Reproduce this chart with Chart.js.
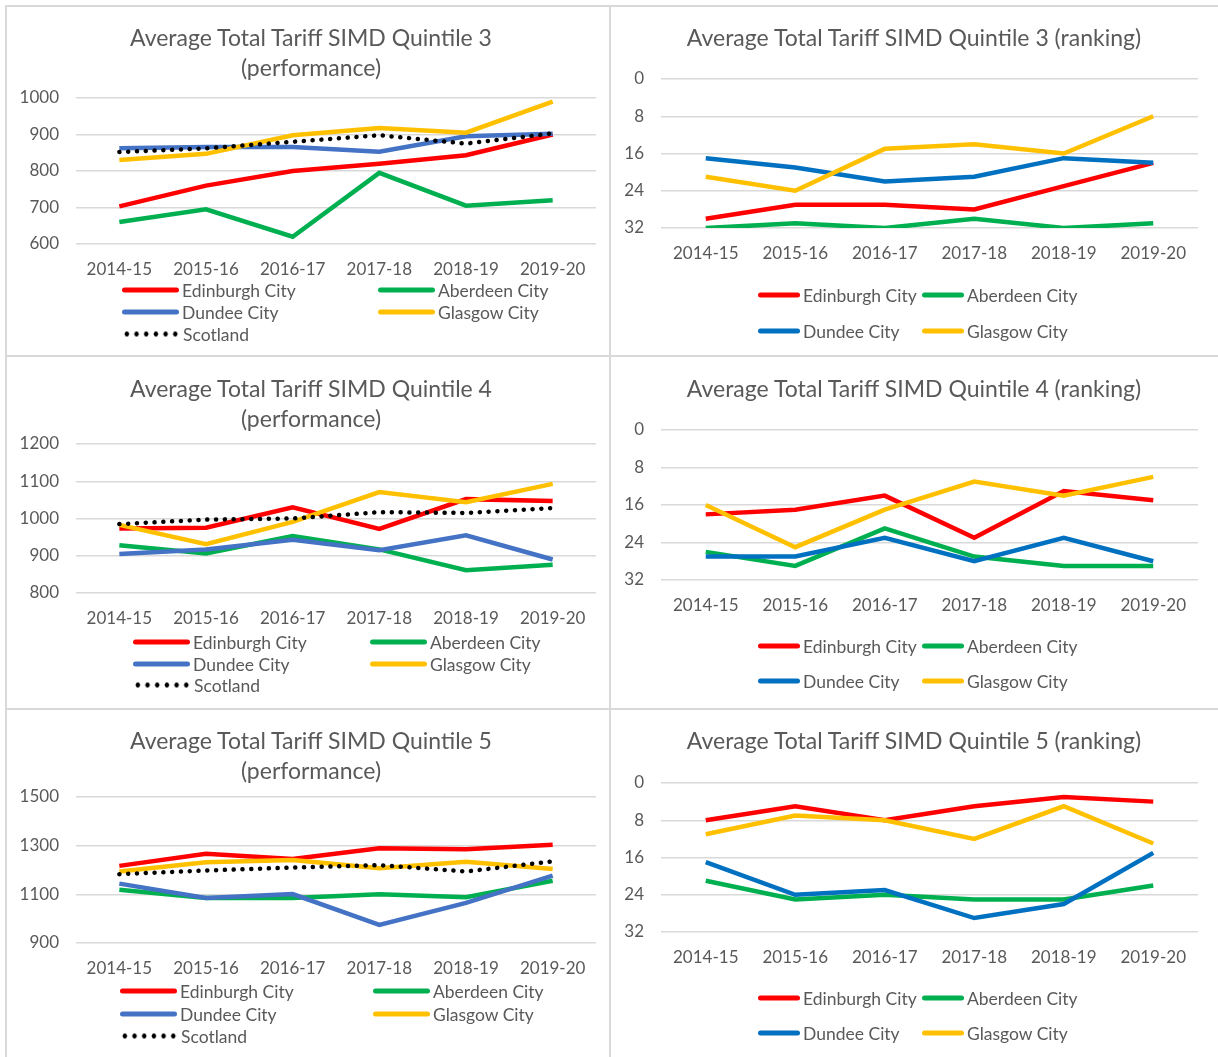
<!DOCTYPE html>
<html>
<head>
<meta charset="utf-8">
<script src="https://cdn.jsdelivr.net/npm/chart.js@4.4.1/dist/chart.umd.min.js"></script>
<style>
    body {
        margin: 0;
        background: #fff;
        width: 1218px;
        height: 1057px;
        position: relative;
        overflow: hidden;
        font-family: Lato, "Open Sans", sans-serif;
    }
    .rule {
        position: absolute;
        background: #d9d9d9;
    }
    .cell {
        position: absolute;
        width: 604px;
        height: 351px;
    }
    .chart-title {
        position: absolute;
        width: 600px;
        margin-left: -300px;
        text-align: center;
        color: #595959;
        font-size: 23px;
        line-height: 30px;
    }
    .legend-item {
        position: absolute;
        display: flex;
        align-items: center;
        color: #595959;
        font-size: 17.5px;
        white-space: nowrap;
        transform: translateY(-50%);
    }
    .legend-item .swatch {
        display: inline-block;
        height: 5px;
        border-radius: 3px;
        margin-right: 3px;
    }
    .legend-item .dots {
        display: inline-block;
        height: 5px;
        margin-right: 3px;
        background-image: radial-gradient(circle, #000 2.2px, transparent 2.6px);
        background-size: 9.7px 5px;
        background-repeat: repeat-x;
    }
</style>
</head>
<body>

<div class="rule" style="left:5px;top:5px;width:1213px;height:2px"></div>
<div class="rule" style="left:5px;top:5px;width:2px;height:1052px"></div>
<div class="rule" style="left:609px;top:5px;width:2px;height:1052px"></div>
<div class="rule" style="left:5px;top:355px;width:1213px;height:2px"></div>
<div class="rule" style="left:5px;top:708px;width:1213px;height:2px"></div>

<div class="cell" style="left:6px;top:5px"><canvas id="q3-perf" width="604" height="351"></canvas></div>
<div class="cell" style="left:610px;top:5px"><canvas id="q3-rank" width="606" height="351"></canvas></div>
<div class="cell" style="left:6px;top:356px"><canvas id="q4-perf" width="604" height="351"></canvas></div>
<div class="cell" style="left:610px;top:356px"><canvas id="q4-rank" width="606" height="351"></canvas></div>
<div class="cell" style="left:6px;top:708px"><canvas id="q5-perf" width="604" height="349"></canvas></div>
<div class="cell" style="left:610px;top:708px"><canvas id="q5-rank" width="606" height="349"></canvas></div>

<div id="overlay"></div>

<script>
    const years = ['2014-15', '2015-16', '2016-17', '2017-18', '2018-19', '2019-20'];
    const cities = ['Edinburgh City', 'Aberdeen City', 'Dundee City', 'Glasgow City'];

    // quintile 3
    const q3PerfEdinburgh = [703, 760, 800, 820, 843, 900];
    const q3PerfAberdeen  = [660, 695, 620, 795, 705, 720];
    const q3PerfDundee    = [862, 866, 866, 853, 895, 902];
    const q3PerfGlasgow   = [830, 847, 898, 918, 905, 990];
    const q3PerfScotland  = [852, 862, 880, 898, 875, 903];

    const q3RankEdinburgh = [30, 27, 27, 28, 23, 18];
    const q3RankAberdeen  = [32, 31, 32, 30, 32, 31];
    const q3RankDundee    = [17, 19, 22, 21, 17, 18];
    const q3RankGlasgow   = [21, 24, 15, 14, 16, 8];

    // quintile 4
    const q4PerfEdinburgh = [973, 975, 1030, 972, 1052, 1047];
    const q4PerfAberdeen  = [928, 906, 953, 917, 861, 876];
    const q4PerfDundee    = [905, 917, 943, 915, 955, 890];
    const q4PerfGlasgow   = [983, 931, 991, 1071, 1044, 1093];
    const q4PerfScotland  = [985, 997, 1000, 1017, 1015, 1028];

    const q4RankEdinburgh = [18, 17, 14, 23, 13, 15];
    const q4RankAberdeen  = [26, 29, 21, 27, 29, 29];
    const q4RankDundee    = [27, 27, 23, 28, 23, 28];
    const q4RankGlasgow   = [16, 25, 17, 11, 14, 10];

    // quintile 5
    const q5PerfEdinburgh = [1217, 1267, 1245, 1289, 1285, 1304];
    const q5PerfAberdeen  = [1119, 1085, 1085, 1100, 1088, 1156];
    const q5PerfDundee    = [1144, 1085, 1101, 974, 1065, 1177];
    const q5PerfGlasgow   = [1194, 1232, 1241, 1207, 1234, 1204];
    const q5PerfScotland  = [1183, 1198, 1210, 1220, 1194, 1235];

    const q5RankEdinburgh = [8, 5, 8, 5, 3, 4];
    const q5RankAberdeen  = [21, 25, 24, 25, 25, 22];
    const q5RankDundee    = [17, 24, 23, 29, 26, 15];
    const q5RankGlasgow   = [11, 7, 8, 12, 5, 13];

    const perfColors = ['#FF0000', '#00B050', '#4472C4', '#FFC000'];
    const rankColors = ['#FF0000', '#00B050', '#0070C0', '#FFC000'];

    const FONT = 'Lato, "Open Sans", sans-serif';
    const TEXT = '#595959';

    // layout of each panel (absolute page coords)
    const panels = [
        { id: 'q3-perf', kind: 'perf', cellY: 5, title: ['Average Total Tariff SIMD Quintile 3', '(performance)'],
          titleX: 311, titleY: 39, top: 98, bottom: 244, yMin: 600, yMax: 1000, yStep: 100, axisW: 70, padR: 14,
          series: [q3PerfEdinburgh, q3PerfAberdeen, q3PerfDundee, q3PerfGlasgow, q3PerfScotland],
          legendX: [122, 378], legendY: [290, 312, 334] },
        { id: 'q3-rank', kind: 'rank', cellY: 5, title: ['Average Total Tariff SIMD Quintile 3 (ranking)'],
          titleX: 914, titleY: 39, top: 79, bottom: 228, axisW: 51, padR: 18,
          series: [q3RankEdinburgh, q3RankAberdeen, q3RankDundee, q3RankGlasgow],
          legendX: [758, 922], legendY: [295, 331] },
        { id: 'q4-perf', kind: 'perf', cellY: 356, title: ['Average Total Tariff SIMD Quintile 4', '(performance)'],
          titleX: 311, titleY: 390, top: 444, bottom: 593, yMin: 800, yMax: 1200, yStep: 100, axisW: 70, padR: 14,
          series: [q4PerfEdinburgh, q4PerfAberdeen, q4PerfDundee, q4PerfGlasgow, q4PerfScotland],
          legendX: [133, 370], legendY: [642, 664, 685] },
        { id: 'q4-rank', kind: 'rank', cellY: 356, title: ['Average Total Tariff SIMD Quintile 4 (ranking)'],
          titleX: 914, titleY: 390, top: 430, bottom: 580, axisW: 51, padR: 18,
          series: [q4RankEdinburgh, q4RankAberdeen, q4RankDundee, q4RankGlasgow],
          legendX: [758, 922], legendY: [646, 681] },
        { id: 'q5-perf', kind: 'perf', cellY: 708, title: ['Average Total Tariff SIMD Quintile 5', '(performance)'],
          titleX: 311, titleY: 742, top: 797, bottom: 943, yMin: 900, yMax: 1500, yStep: 200, axisW: 70, padR: 14,
          series: [q5PerfEdinburgh, q5PerfAberdeen, q5PerfDundee, q5PerfGlasgow, q5PerfScotland],
          legendX: [120, 373], legendY: [991, 1014, 1036] },
        { id: 'q5-rank', kind: 'rank', cellY: 708, title: ['Average Total Tariff SIMD Quintile 5 (ranking)'],
          titleX: 914, titleY: 742, top: 783, bottom: 932, axisW: 51, padR: 18,
          series: [q5RankEdinburgh, q5RankAberdeen, q5RankDundee, q5RankGlasgow],
          legendX: [758, 922], legendY: [998, 1033] }
    ];

    const X_AXIS_H = 40;
    const overlay = document.getElementById('overlay');

    panels.forEach(p => {
        const canvas = document.getElementById(p.id);
        const isPerf = p.kind === 'perf';
        const colors = isPerf ? perfColors : rankColors;

        const datasets = cities.map((name, i) => ({
            label: name,
            data: p.series[i],
            borderColor: colors[i],
            backgroundColor: colors[i],
            borderWidth: 4.5,
            pointRadius: 0,
            tension: 0,
            fill: false,
            order: 10 - i
        }));
        if (isPerf) {
            datasets.push({
                label: 'Scotland',
                data: p.series[4],
                borderColor: '#000',
                backgroundColor: '#000',
                borderWidth: 4.5,
                borderDash: [0.1, 8.7],
                borderCapStyle: 'round',
                pointRadius: 0,
                tension: 0,
                fill: false,
                order: 1
            });
        }

        const chartTop = p.top - p.cellY;
        const chartBottom = p.bottom - p.cellY;

        new Chart(canvas.getContext('2d'), {
            type: 'line',
            data: { labels: years, datasets: datasets },
            options: {
                responsive: false,
                animation: false,
                layout: {
                    padding: { left: 0, right: p.padR, top: chartTop, bottom: canvas.height - chartBottom - X_AXIS_H }
                },
                plugins: {
                    legend: { display: false },
                    tooltip: { enabled: false },
                    title: { display: false }
                },
                scales: {
                    x: {
                        offset: true,
                        grid: { display: false },
                        border: { display: false },
                        ticks: { color: TEXT, font: { family: FONT, size: 17 }, padding: 7, maxRotation: 0 },
                        afterFit: s => { s.height = X_AXIS_H; }
                    },
                    y: {
                        reverse: !isPerf,
                        min: isPerf ? p.yMin : 0,
                        max: isPerf ? p.yMax : 32,
                        grid: { color: '#d9d9d9', lineWidth: 1.5, drawTicks: false },
                        border: { display: false },
                        ticks: {
                            stepSize: isPerf ? p.yStep : 8,
                            color: TEXT,
                            font: { family: FONT, size: 17 },
                            padding: 17,
                            callback: v => String(v)
                        },
                        afterFit: s => { s.width = p.axisW; }
                    }
                }
            }
        });

        // title placed over the cell, centred like the original
        const t = document.createElement('div');
        t.className = 'chart-title';
        t.style.left = p.titleX + 'px';
        t.style.top = (p.titleY - 17) + 'px';
        t.innerHTML = p.title.join('<br>');
        overlay.appendChild(t);

        // legend laid out as a two column grid like the original
        const names = isPerf ? cities.concat(['Scotland']) : cities;
        names.forEach((name, i) => {
            const item = document.createElement('div');
            item.className = 'legend-item';
            item.style.left = p.legendX[i % 2] + 'px';
            item.style.top = p.legendY[Math.floor(i / 2)] + 'px';
            const sw = document.createElement('span');
            if (name === 'Scotland') {
                sw.className = 'dots';
                sw.style.width = '58px';
            } else {
                sw.className = 'swatch';
                sw.style.width = (isPerf ? 57 : 42) + 'px';
                sw.style.background = colors[i];
            }
            item.appendChild(sw);
            item.appendChild(document.createTextNode(name));
            overlay.appendChild(item);
        });
    });
</script>
</body>
</html>
